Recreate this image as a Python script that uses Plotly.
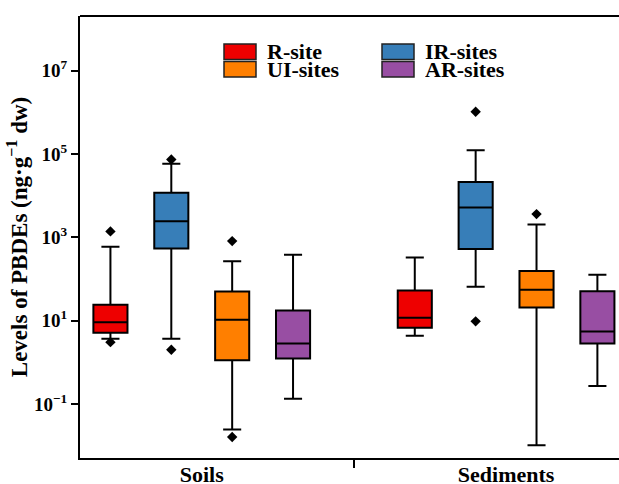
import plotly.graph_objects as go

# ---------------- data ----------------
groups = ["Soils", "Sediments"]
sites = ["R-site", "IR-sites", "UI-sites", "AR-sites"]
colors = ["#EE0000", "#377EB8", "#FF7F00", "#984EA3"]

# precomputed box statistics per site: [Soils, Sediments]
q1 = {
    "R-site": [5.15, 6.8],
    "IR-sites": [545, 524],
    "UI-sites": [1.14, 20.9],
    "AR-sites": [1.25, 2.87],
}
median = {
    "R-site": [9.3, 11.8],
    "IR-sites": [2455, 5236],
    "UI-sites": [10.6, 55.3],
    "AR-sites": [2.87, 5.57],
}
q3 = {
    "R-site": [24.2, 53.6],
    "IR-sites": [11750, 21200],
    "UI-sites": [50.7, 155.6],
    "AR-sites": [17.7, 51.5],
}
lowerfence = {
    "R-site": [3.7, 4.37],
    "IR-sites": [3.7, 65.3],
    "UI-sites": [0.0249, 0.0103],
    "AR-sites": [0.135, 0.272],
}
upperfence = {
    "R-site": [596, 331],
    "IR-sites": [58200, 124000],
    "UI-sites": [270, 2051],
    "AR-sites": [383, 127],
}
# outliers: list of (group index, value)
outliers = {
    "R-site": [(0, 1393), (0, 3.08)],
    "IR-sites": [(0, 74100), (0, 2.02), (1, 1030000), (1, 9.7)],
    "UI-sites": [(0, 815), (0, 0.0163), (1, 3622)],
    "AR-sites": [],
}
ytickvals = [0.1, 10, 1e3, 1e5, 1e7]
yticktext = ["10<sup>−1</sup>", "10<sup>1</sup>", "10<sup>3</sup>", "10<sup>5</sup>", "10<sup>7</sup>"]

# ---------------- figure ----------------
FONT = "Liberation Serif"
boxgap = 0.2
boxgroupgap = 0.44
n = len(sites)
slot = (1 - boxgap) / n

fig = go.Figure()
gx = list(range(len(groups)))
for k, s in enumerate(sites):
    fig.add_trace(go.Box(
        x=gx, q1=q1[s], median=median[s], q3=q3[s],
        lowerfence=lowerfence[s], upperfence=upperfence[s],
        name=s, offsetgroup=str(k), fillcolor=colors[k],
        line=dict(color="black", width=2), whiskerwidth=0.53,
        boxpoints=False, showlegend=False,
    ))
    if outliers[s]:
        fig.add_trace(go.Scatter(
            x=[g + (k - (n - 1) / 2) * slot for g, v in outliers[s]],
            y=[v for g, v in outliers[s]],
            mode="markers",
            marker=dict(symbol="diamond", size=8, color="black"),
            showlegend=False, hoverinfo="y",
        ))

fig.update_layout(
    width=619, height=484,
    margin=dict(l=80, r=0, t=16, b=26),
    paper_bgcolor="white", plot_bgcolor="white",
    boxmode="group", boxgap=boxgap, boxgroupgap=boxgroupgap,
    font=dict(family=FONT, color="black", size=22, weight="bold"),
    showlegend=False,
)
fig.update_xaxes(
    range=[-0.4, 1.371], tickvals=gx, ticktext=groups, ticks="",
    automargin=False, ticklabelstandoff=-4,
    showline=True, linecolor="black", linewidth=2, showgrid=False, zeroline=False,
    tickfont=dict(size=22, family=FONT, weight="bold"),
    minor=dict(tickmode="array", tickvals=[0.5], ticks="outside", ticklen=8,
               tickwidth=1.5, tickcolor="black", showgrid=False),
)
fig.update_yaxes(
    type="log", range=[-2.29, 8.31], tickvals=ytickvals, ticktext=yticktext,
    automargin=False,
    ticks="outside", ticklen=7, tickwidth=1.5, tickcolor="black",
    showline=True, linecolor="black", linewidth=2, showgrid=False, zeroline=False,
    tickfont=dict(size=19, family=FONT, weight="bold"),
    title=dict(text="Levels of PBDEs (ng·g<sup>−1</sup> dw)",
               font=dict(size=23, family=FONT, weight="bold"), standoff=0),
)
# top frame line
fig.add_shape(type="line", xref="paper", yref="paper", x0=0, x1=1, y0=1, y1=1,
              line=dict(color="black", width=2))

# manual legend (two columns)
pl, pr, pt, pb = 80.0, 619.0, 16.0, 458.0
def px(x):
    return (x - pl) / (pr - pl)
def py(y):
    return (pb - y) / (pb - pt)
leg_cols = [224.0, 382.0]
leg_rows = [44.0, 61.5]
sw_w, sw_h = 32.0, 15.5
order = [("R-site", 0, 0), ("UI-sites", 0, 1), ("IR-sites", 1, 0), ("AR-sites", 1, 1)]
for s, c, r in order:
    k = sites.index(s)
    x0 = leg_cols[c]; y0 = leg_rows[r]
    fig.add_shape(type="rect", xref="paper", yref="paper",
                  x0=px(x0), x1=px(x0 + sw_w), y0=py(y0 + sw_h), y1=py(y0),
                  fillcolor=colors[k], line=dict(color="#222222", width=1.5))
    fig.add_annotation(xref="paper", yref="paper", x=px(x0 + sw_w + 9),
                       y=py(y0 + sw_h / 2), text=s, showarrow=False,
                       xanchor="left", yanchor="middle", height=17,
                       font=dict(size=22, family=FONT, weight="bold"))

fig.write_html("out.html", config={"displayModeBar": False},
               post_script="document.body.style.margin='0';")
